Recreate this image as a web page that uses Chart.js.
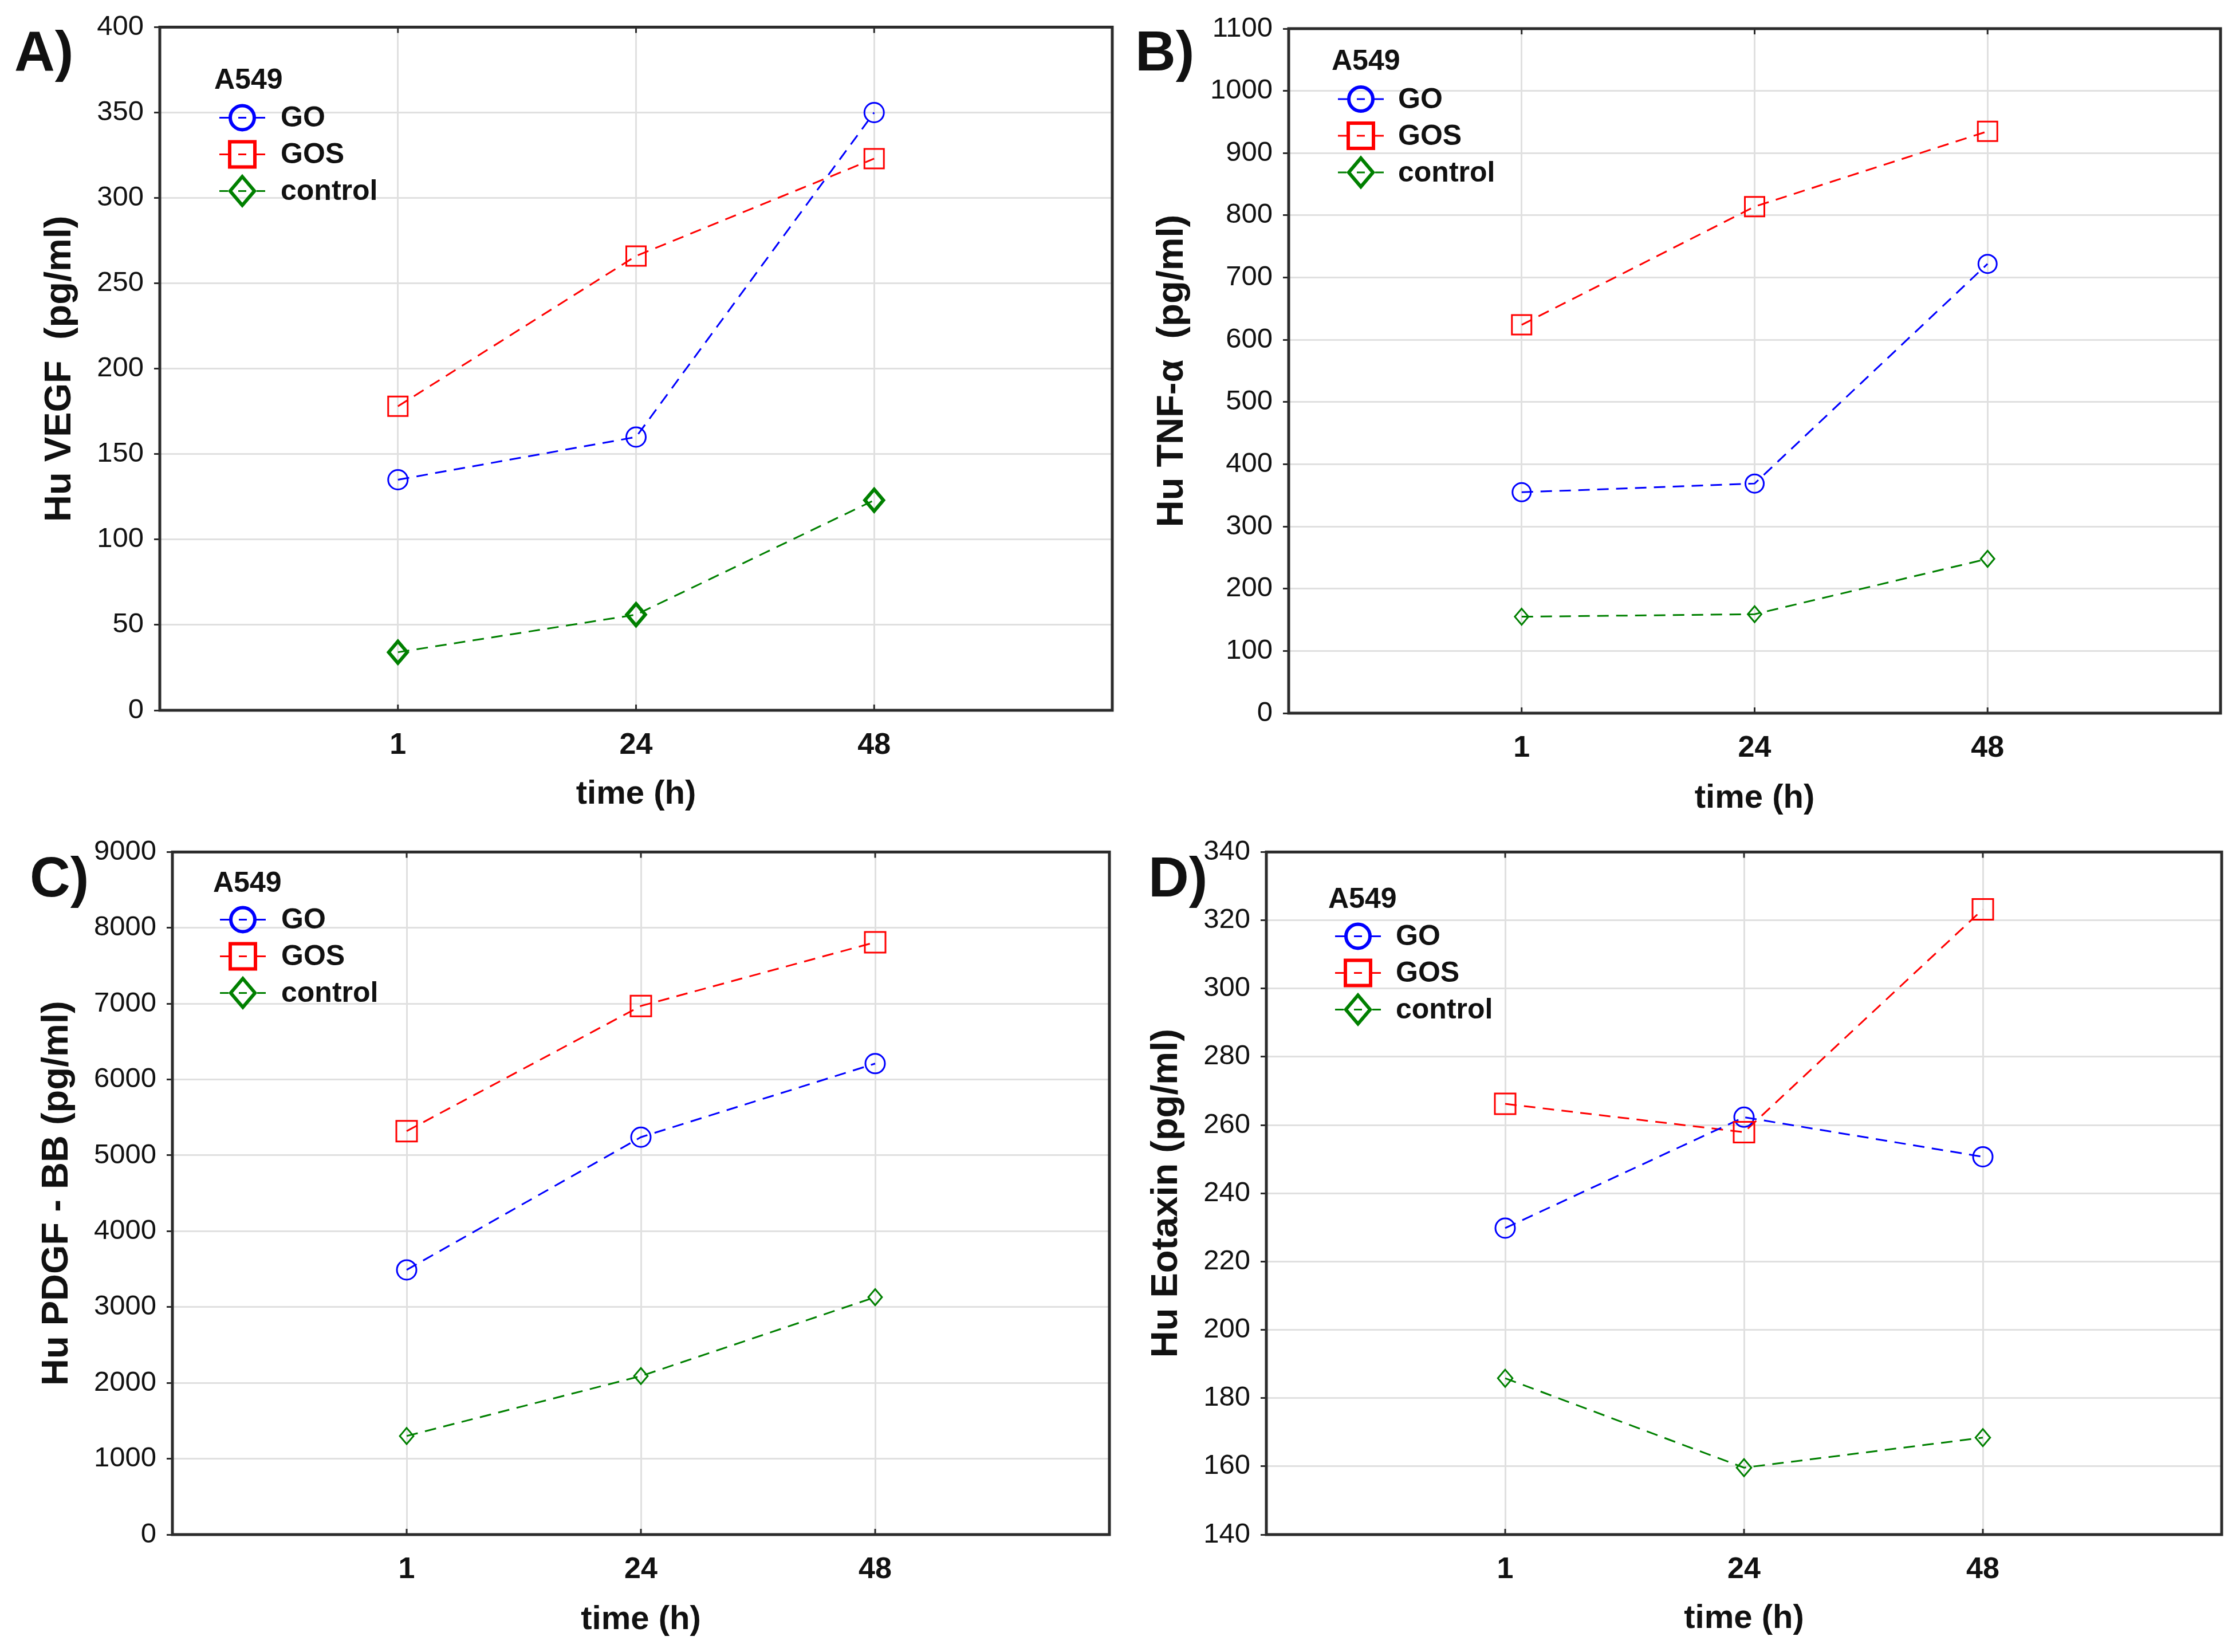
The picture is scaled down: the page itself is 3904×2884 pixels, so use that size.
<!DOCTYPE html>
<html>
<head>
<meta charset="utf-8">
<script src="https://cdn.jsdelivr.net/npm/chart.js@4.4.0/dist/chart.umd.min.js"></script>
<style>
  html, body { margin: 0; padding: 0; background: #ffffff; }
  #wrap { position: relative; width: 3904px; height: 2884px; background: #fff; overflow: hidden; }
  canvas { position: absolute; }
  .lbl { position: absolute; font: bold 98px "Liberation Sans", Arial, sans-serif; line-height: 1; color: #111; }
</style>
</head>
<body>
<div id="wrap">
  <canvas id="cA" width="1980" height="1440" style="left:0px;top:0px;width:1980px;height:1440px"></canvas>
  <canvas id="cB" width="1924" height="1440" style="left:1980px;top:0px;width:1924px;height:1440px"></canvas>
  <canvas id="cC" width="1980" height="1444" style="left:0px;top:1440px;width:1980px;height:1444px"></canvas>
  <canvas id="cD" width="1924" height="1444" style="left:1980px;top:1440px;width:1924px;height:1444px"></canvas>
  <div class="lbl" style="left:25px;top:40px">A)</div>
  <div class="lbl" style="left:1982px;top:40px">B)</div>
  <div class="lbl" style="left:52px;top:1482px">C)</div>
  <div class="lbl" style="left:2005px;top:1482px">D)</div>
</div>
<script>
// ---------------- DATA ----------------
const timeLabels = ['1', '24', '48'];
const seriesNames = ['GO', 'GOS', 'control'];
const legendTitle = 'A549';
const xTitle = 'time (h)';

const vegfGO = [135, 160, 350];
const vegfGOS = [178, 266, 323];
const vegfControl = [34, 56, 123];

const tnfGO = [355, 369, 722];
const tnfGOS = [624, 814, 935];
const tnfControl = [155, 159, 248];

const pdgfGO = [3490, 5240, 6210];
const pdgfGOS = [5320, 6970, 7810];
const pdgfControl = [1300, 2090, 3130];

const eotaxinGO = [229.8, 262.3, 250.7];
const eotaxinGOS = [266.2, 257.9, 323.2];
const eotaxinControl = [185.8, 159.6, 168.4];

const yTitles = ['Hu VEGF  (pg/ml)', 'Hu TNF-\u03b1  (pg/ml)', 'Hu PDGF - BB (pg/ml)', 'Hu Eotaxin (pg/ml)'];
const yRanges = [[0, 400, 50], [0, 1100, 100], [0, 9000, 1000], [140, 340, 20]];

// ---------------- STYLE ----------------
const FONT = '"Liberation Sans", Arial, sans-serif';
const colors = ['#0000ff', '#ff0000', '#008000'];
const pointStyles = ['circle', 'rect', 'diamond'];
const INK = '#111111';

function drawMarker(ctx, style, x, y, r, lw, color) {
  ctx.save();
  ctx.setLineDash([]);
  ctx.strokeStyle = color;
  ctx.lineWidth = lw;
  ctx.beginPath();
  if (style === 'circle') {
    ctx.arc(x, y, r, 0, Math.PI * 2);
  } else if (style === 'rect') {
    ctx.rect(x - r, y - r, 2 * r, 2 * r);
  } else {
    ctx.moveTo(x, y - r); ctx.lineTo(x + r * 0.85, y); ctx.lineTo(x, y + r); ctx.lineTo(x - r * 0.85, y); ctx.closePath();
  }
  ctx.stroke();
  ctx.restore();
}

const framePlugin = {
  id: 'frame',
  beforeDatasetsDraw(chart) {
    const { ctx, chartArea: a } = chart;
    ctx.save();
    ctx.strokeStyle = '#2b2b2b';
    ctx.lineWidth = 5;
    ctx.strokeRect(a.left, a.top, a.right - a.left, a.bottom - a.top);
    const xs = chart.scales.x;
    ctx.lineWidth = 3;
    xs.ticks.forEach(t => {
      const px = xs.getPixelForValue(t.value);
      ctx.beginPath();
      ctx.moveTo(px, a.top); ctx.lineTo(px, a.top + 10);
      ctx.moveTo(px, a.bottom); ctx.lineTo(px, a.bottom - 10);
      ctx.stroke();
    });
    ctx.restore();
  }
};

const markerPlugin = {
  id: 'markers',
  afterDatasetsDraw(chart, args, opts) {
    const { ctx } = chart;
    chart.data.datasets.forEach((ds, i) => {
      const meta = chart.getDatasetMeta(i);
      meta.data.forEach(pt => {
        drawMarker(ctx, pointStyles[i], pt.x, pt.y, opts.radius[i], opts.width[i], colors[i]);
      });
    });
  }
};

const legendPlugin = {
  id: 'insideLegend',
  afterDatasetsDraw(chart, args, o) {
    const { ctx, chartArea: a } = chart;
    ctx.save();
    ctx.fillStyle = INK;
    ctx.textBaseline = 'middle';
    ctx.textAlign = 'left';
    ctx.font = 'bold 50px ' + FONT;
    ctx.fillText(legendTitle, a.left + o.titleX, a.top + o.titleY);
    const legR = [21, 22, 25];
    chart.data.datasets.forEach((ds, i) => {
      const y = a.top + o.rowY + i * o.rowGap;
      const mx = a.left + o.markerX;
      ctx.strokeStyle = colors[i];
      ctx.lineWidth = 3;
      ctx.setLineDash([]);
      ctx.beginPath();
      ctx.moveTo(mx - 40, y); ctx.lineTo(mx - legR[i], y);
      ctx.moveTo(mx + legR[i], y); ctx.lineTo(mx + 40, y);
      ctx.moveTo(mx - 7, y); ctx.lineTo(mx + 7, y);
      ctx.stroke();
      drawMarker(ctx, pointStyles[i], mx, y, legR[i], 6, colors[i]);
      ctx.fillStyle = INK;
      ctx.font = 'bold 50px ' + FONT;
      ctx.fillText(ds.label, a.left + o.labelX, y + 2);
    });
    ctx.restore();
  }
};

function makeChart(id, series, idx, geo) {
  const [ymin, ymax, ystep] = yRanges[idx];
  const datasets = series.map((vals, i) => ({
    label: seriesNames[i],
    data: vals.map((v, j) => ({ x: j + 1, y: v })),
    borderColor: colors[i],
    backgroundColor: colors[i],
    borderWidth: 3,
    borderDash: [20, 13],
    pointRadius: 0,
    tension: 0,
    fill: false
  }));
  return new Chart(document.getElementById(id), {
    type: 'line',
    data: { datasets },
    plugins: [framePlugin, markerPlugin, legendPlugin],
    options: {
      responsive: false,
      animation: false,
      devicePixelRatio: 1,
      layout: { padding: { top: geo.padTop, right: geo.padRight, left: 0, bottom: 0 } },
      plugins: {
        legend: { display: false },
        tooltip: { enabled: false },
        markers: { radius: geo.markerR, width: geo.markerW },
        insideLegend: geo.legend
      },
      scales: {
        x: {
          type: 'linear',
          min: 0,
          max: timeLabels.length + 1,
          afterBuildTicks: s => { s.ticks = timeLabels.map((_, i) => ({ value: i + 1 })); },
          afterFit: s => { s.height = geo.xH; },
          ticks: {
            autoSkip: false,
            maxRotation: 0,
            padding: 30,
            color: INK,
            font: { family: FONT, size: 52, weight: 'bold' },
            callback: v => timeLabels[v - 1] ?? ''
          },
          grid: { color: '#e0e0e0', lineWidth: 3, drawTicks: false },
          border: { display: false },
          title: {
            display: true, text: xTitle, color: INK,
            font: { family: FONT, size: 58, weight: 'bold' },
            padding: { top: 0, bottom: geo.xTitlePad }
          }
        },
        y: {
          type: 'linear',
          min: ymin,
          max: ymax,
          afterFit: s => { s.width = geo.yW; },
          ticks: {
            stepSize: ystep,
            autoSkip: false,
            padding: 18,
            color: INK,
            font: { family: FONT, size: 49 },
            callback: v => String(v)
          },
          grid: { color: '#e0e0e0', lineWidth: 3, drawTicks: true, tickLength: 10, tickColor: '#2b2b2b', tickWidth: 3 },
          border: { display: false },
          title: {
            display: true, text: yTitles[idx], color: INK,
            font: { family: FONT, size: 65, weight: 'bold' },
            padding: { top: geo.yTitlePad, bottom: 0 }
          }
        }
      }
    }
  });
}

makeChart('cA', [vegfGO, vegfGOS, vegfControl], 0, {
  padTop: 45, padRight: 38, yW: 279, xH: 200, xTitlePad: 18, yTitlePad: 66,
  markerR: [17, 17, 19], markerW: [3, 3, 6],
  legend: { titleX: 95, titleY: 94, rowY: 158, rowGap: 64, markerX: 144, labelX: 211 }
});
makeChart('cB', [tnfGO, tnfGOS, tnfControl], 1, {
  padTop: 50, padRight: 27, yW: 270, xH: 195, xTitlePad: 11, yTitlePad: 28,
  markerR: [16, 17, 14], markerW: [3, 3, 3],
  legend: { titleX: 75, titleY: 58, rowY: 123, rowGap: 64, markerX: 126, labelX: 191 }
});
makeChart('cC', [pdgfGO, pdgfGOS, pdgfControl], 2, {
  padTop: 46, padRight: 43, yW: 301, xH: 205, xTitlePad: 21, yTitlePad: 61,
  markerR: [17, 18, 14], markerW: [3, 3, 3],
  legend: { titleX: 71, titleY: 56, rowY: 118, rowGap: 64, markerX: 123, labelX: 190 }
});
makeChart('cD', [eotaxinGO, eotaxinGOS, eotaxinControl], 3, {
  padTop: 44, padRight: 25, yW: 231, xH: 205, xTitlePad: 23, yTitlePad: 18,
  markerR: [17, 18, 15], markerW: [3, 3, 3],
  legend: { titleX: 108, titleY: 84, rowY: 147, rowGap: 64, markerX: 160, labelX: 226 }
});
</script>
</body>
</html>
